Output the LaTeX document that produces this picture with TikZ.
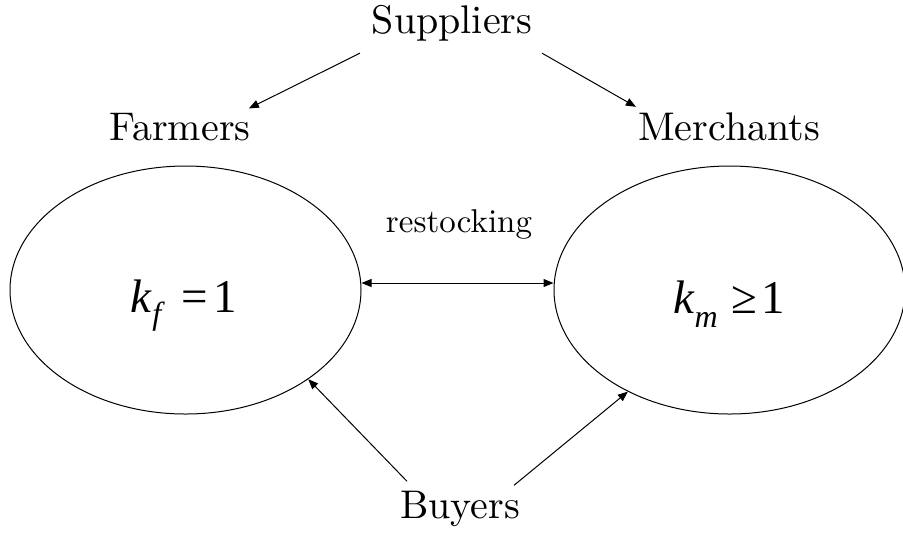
\documentclass[tikz,border=0pt]{standalone}
\usepackage{fontspec}
\setmainfont{lmroman10-regular.otf}[ItalicFont=lmroman10-italic.otf]
\newfontfamily\tnr{LiberationSerif-Regular.ttf}[ItalicFont=LiberationSerif-Italic.ttf]
\usetikzlibrary{arrows.meta,shapes.geometric}

\begin{document}
\begin{tikzpicture}[
  x=0.5pt,y=-0.5pt,
  >={Triangle[length=5pt,width=4pt]},
  lbl/.style={font=\fontsize{20}{24}\selectfont,anchor=base,inner sep=2pt},
  small lbl/.style={font=\fontsize{16.5}{20}\selectfont,anchor=base,inner sep=2pt},
  oval/.style={draw,ellipse,line width=0.5pt,minimum width=175.5pt,
    minimum height=124pt,inner sep=0pt},
  formula/.style={font=\tnr\fontsize{23.5}{28}\selectfont,anchor=base,inner sep=0pt},
  sig/.style={->,line width=0.5pt}]

  \useasboundingbox (0,0) rectangle (903,532);

  % groups
  \node[lbl] (sup) at (452,33) {Suppliers};
  \node[lbl] (farm) at (180,140) {Farmers};
  \node[lbl] (merch) at (729,140) {Merchants};
  \node[lbl] (buy) at (460,518) {Buyers};

  % markets
  \node[oval] (lell) at (185.5,290) {};
  \node[oval] (rell) at (729.5,290) {};
  \node[formula] (kf) at (184,312)
    {\textit{k}\raisebox{-6pt}{\fontsize{16}{16}\selectfont\textit{f}}\hspace{8pt}=\hspace{3pt}1};
  \node[formula] (km) at (729,313)
    {\textit{k}\raisebox{-7pt}{\fontsize{16}{16}\selectfont\textit{m}}\hspace{7pt}≥\hspace{2pt}1};

  % supply
  \draw[sig] ([shift={(-92,8)}]sup.south) -- ([shift={(-6,0)}]farm.north east);
  \draw[sig] ([shift={(90,8)}]sup.south) -- ([shift={(2,-1)}]merch.north west);

  % restocking between the two
  \node[small lbl] (resto) at (459,232) {restocking};
  \draw[sig,<->] ([yshift=3.5pt]lell.east) -- ([yshift=3.5pt]rell.west);

  % demand
  \draw[sig] ([shift={(-53,-5)}]buy.north) -- (lell.-36);
  \draw[sig] ([shift={(54,-1)}]buy.north) -- (rell.-135.7);
\end{tikzpicture}
\end{document}
